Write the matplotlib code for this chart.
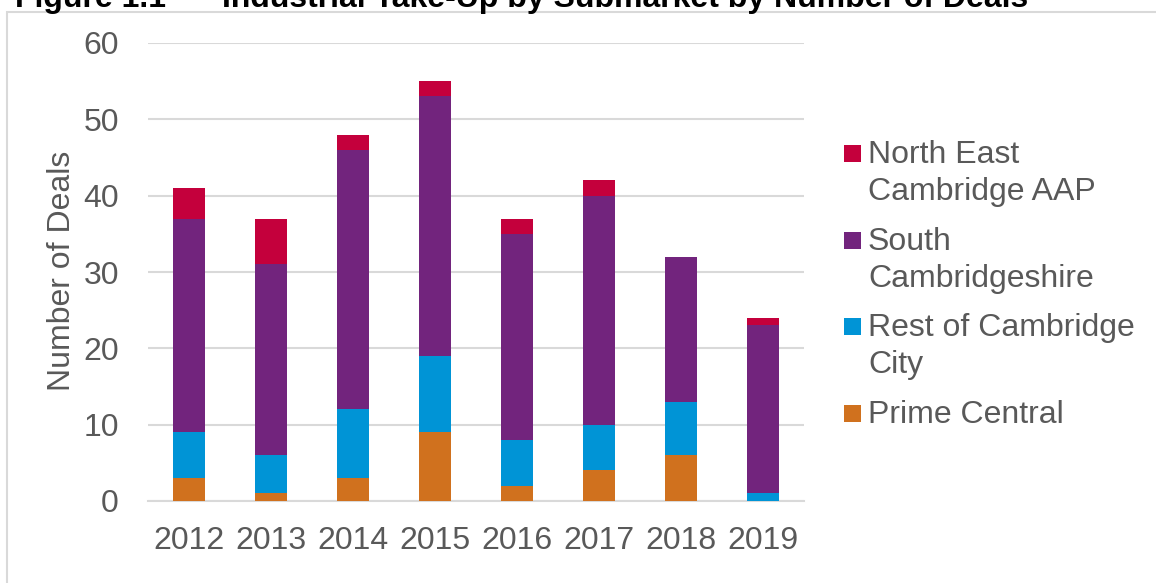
import matplotlib
matplotlib.use("Agg")
import matplotlib.pyplot as plt
from matplotlib.patches import Rectangle
import numpy as np

years = ["2012", "2013", "2014", "2015", "2016", "2017", "2018", "2019"]
prime_central = [3, 1, 3, 9, 2, 4, 6, 0]
rest_of_city = [6, 5, 9, 10, 6, 6, 7, 1]
south_cambs = [28, 25, 34, 34, 27, 30, 19, 22]
north_east_aap = [4, 6, 2, 2, 2, 2, 0, 1]

series_names = ["North East\nCambridge AAP", "South\nCambridgeshire",
                "Rest of Cambridge\nCity", "Prime Central"]
colors = {"ne": "#C4003C", "south": "#72247D", "rest": "#0094D6", "prime": "#D0711E"}

title_num = "Figure 1.1"
title_text = "Industrial Take-Up by Submarket by Number of Deals"
y_label = "Number of Deals"

W, H = 1156, 583
plt.rcParams['font.family'] = ['Liberation Sans', 'DejaVu Sans']
fig = plt.figure(figsize=(W / 100, H / 100), dpi=100)

def fx(px):
    return px / W

def fy(py):
    return 1 - py / H

FS = 23

ax = fig.add_axes([fx(148), fy(501), (804 - 148) / W, (501 - 43) / H])

x = np.arange(len(years))
bw = 0.4
stack = [(prime_central, colors["prime"]), (rest_of_city, colors["rest"]),
         (south_cambs, colors["south"]), (north_east_aap, colors["ne"])]
bottom = np.zeros(len(years))
for vals, c in stack:
    v = np.array(vals, dtype=float)
    ax.bar(x, v, bw, bottom=bottom, color=c, linewidth=0, zorder=3)
    bottom += v

ax.set_xlim(-0.5, len(years) - 0.5)
ax.set_ylim(0, 60)
ax.set_yticks(np.arange(0, 61, 10))
ax.set_xticks(x)
ax.set_xticklabels(years)
grey_txt = "#595959"
ax.tick_params(axis='both', length=0, labelsize=FS, colors=grey_txt)
ax.tick_params(axis='y', pad=21)
ax.tick_params(axis='x', pad=18)
ax.grid(axis='y', color='#d9d9d9', linewidth=1.5, zorder=0)
ax.set_axisbelow(True)
for s in ["top", "right", "left"]:
    ax.spines[s].set_visible(False)
ax.spines["bottom"].set_color('#d9d9d9')
ax.spines["bottom"].set_linewidth(1.5)

fig.text(fx(62), fy(271), y_label, rotation=90, ha='center', va='center',
         fontsize=FS, color=grey_txt)

# Legend (manual, marker aligned with first line)
leg_colors = [colors["ne"], colors["south"], colors["rest"], colors["prime"]]
base0 = 163
for i, (name, c) in enumerate(zip(series_names, leg_colors)):
    b = base0 + i * 86.7
    fig.add_artist(Rectangle((fx(844), fy(b - 1)), 17 / W, 17 / H,
                             transform=fig.transFigure, color=c, linewidth=0))
    for j, line in enumerate(name.split("\n")):
        fig.text(fx(868), fy(b + j * 37), line, ha='left', va='baseline',
                 fontsize=FS, color=grey_txt)

# Outer frame
fig.add_artist(Rectangle((fx(7), -0.05), 1.2, fy(11.5) + 0.05,
                         transform=fig.transFigure, fill=False,
                         edgecolor='#d9d9d9', linewidth=1.5))

# Clipped title (cut off at the top edge, as in the reference)
fig.text(fx(15), fy(6.5), title_num, ha='left', va='baseline', fontsize=23,
         fontweight='bold', color='black')
fig.text(fx(222), fy(6.5), title_text, ha='left', va='baseline', fontsize=23,
         fontweight='bold', color='black')

fig.savefig("out.png", dpi=100)
